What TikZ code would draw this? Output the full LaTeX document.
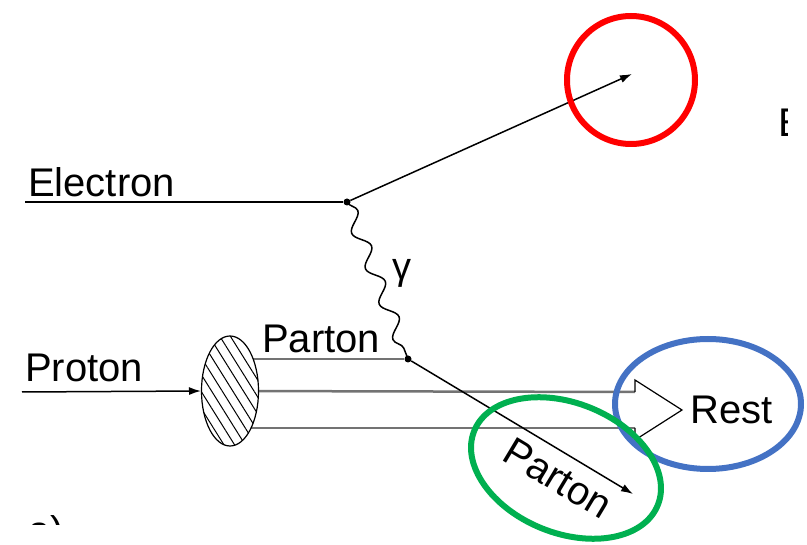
\documentclass[tikz,border=0pt]{standalone}
\usepackage{fontspec}
\setmainfont{Liberation Sans}
\usetikzlibrary{arrows.meta,decorations.pathmorphing,patterns.meta,shapes.geometric,backgrounds}
\definecolor{annred}{HTML}{FF0000}
\definecolor{annblue}{HTML}{4472C4}
\definecolor{anngreen}{HTML}{00B050}

\begin{document}
\begin{tikzpicture}[x=1pt,y=-1pt]
	\tikzset{lbl/.style={font=\fontsize{40}{48}\selectfont,inner sep=0pt},
		vtx/.style={circle,fill,inner sep=0pt,minimum size=7pt},
		lepton/.style={line width=1.5pt},
		fermion/.style={line width=1.5pt,-{Latex[length=12pt,width=8pt]}},
		photon/.style={line width=1.5pt,decorate,decoration={snake,segment length=38pt,amplitude=7pt}},
		spectator/.style={line width=2.5pt,black!55},
		hilite/.style={line width=6pt}}
	\useasboundingbox (0,0) rectangle (807,545);
	\begin{scope}
		\clip (0,0) rectangle (787,525);
		\node[vtx] (v1) at (347,202) {};
		\node[vtx] (v2) at (408,359) {};
		\coordinate (ein) at (25,202);
		\coordinate (eout) at (632,74);
		\coordinate (pin) at (22,392);
		\coordinate (pout) at (633,494);
		\coordinate (head1) at (635,392);
		\coordinate (head2) at (635,428);
		\coordinate (tip) at (682,410);
		\node[ellipse,draw,line width=1.2pt,minimum width=57pt,minimum height=110pt,inner sep=0pt,
			preaction={fill=white},pattern={Lines[angle=-58,distance=9pt,line width=1pt]}] (blob) at (230,391) {};
		\begin{scope}[on background layer]
			\draw[spectator] (blob.center |- v2) -- (v2);
			\draw[spectator] (blob.center) -- (head1);
			\draw[spectator] (blob.center |- head2) -- (head2);
		\end{scope}
		\draw[line width=1.2pt] (head1) -- ++(0,-12) -- (tip) -- ++(-47,30) -- (head2);
		\draw[lepton] (ein) -- (v1);
		\draw[fermion] (v1) -- (eout);
		\draw[photon] (v1.center) -- (v2.center);
		\draw[fermion] (v2) -- (pout);
		\draw[fermion] (pin) -- (blob.west);
		\node[lbl,anchor=base west] (elbl) at (28,197) {Electron};
		\node[lbl,anchor=base west] (plbl) at (25,382) {Proton};
		\node[lbl,anchor=base west] (qlbl) at (262,353) {Parton};
		\node[lbl,font=\fontsize{38}{44}\selectfont] (glbl) at (402,273) {γ};
		\node[lbl,anchor=west] (rlbl) at ([xshift=8pt]tip) {Rest};
		\node[lbl,anchor=base west] (cut1) at (778,137) {E};
		\node[lbl,anchor=base west] (cut2) at (28,544) {a)};
	\end{scope}
	\node[lbl,rotate=-31] (qout) at (558,478) {Parton};
	\draw[hilite,annred] (631,80) circle[radius=64pt];
	\draw[hilite,annblue] (708,404) ellipse[x radius=93pt,y radius=65pt];
	\draw[hilite,anngreen,rotate around={-22:(566,468)}] (566,468) ellipse[x radius=99pt,y radius=65pt];
\end{tikzpicture}
\end{document}
